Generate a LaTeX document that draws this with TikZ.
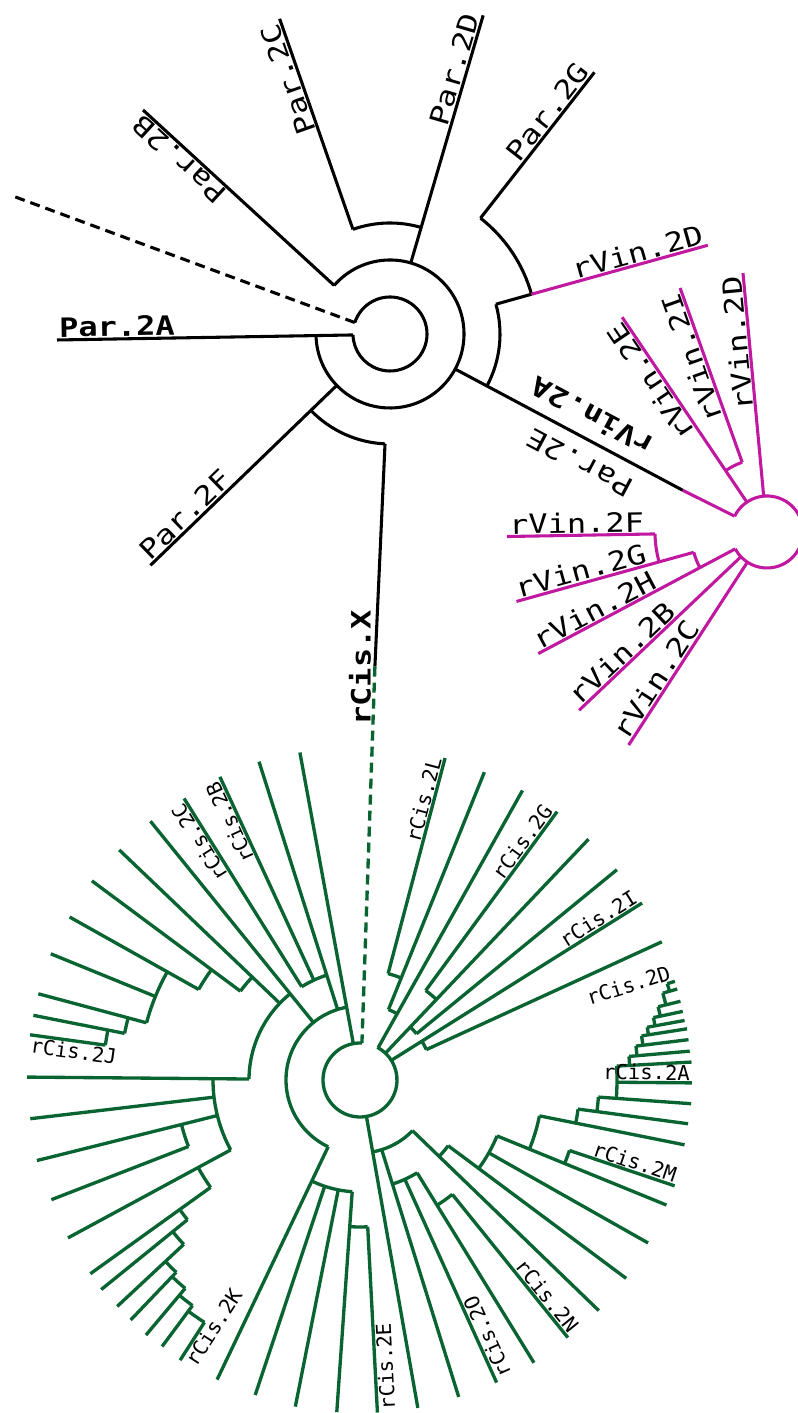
\documentclass[tikz,border=0pt]{standalone}
\usepackage{fontspec}
\newfontfamily\lblfont[FakeStretch=1.2]{DejaVu Sans Mono}
\newfontfamily\glblfont{DejaVu Sans Mono}
\definecolor{mag}{RGB}{192,24,160}
\definecolor{grn}{RGB}{10,100,50}
\newcommand{\tleaf}[3]{\draw (#1:#2) -- (#1:#3);}
\newcommand{\tleafn}[4]{\draw (#1:#2) -- (#1:#3) coordinate (#4);}
\newcommand{\tarc}[3]{\draw (#1:#3) arc[start angle=#1, end angle=#2, radius=#3*0.75pt];}
\tikzset{
  blk/.style={line width=2.3pt, draw=black},
  mg/.style={line width=2.3pt, draw=mag},
  gr/.style={line width=2.5pt, draw=grn},
  dsh/.style={dash pattern=on 7.5pt off 4.5pt},
  lab/.style={font=\lblfont\fontsize{20}{24}\selectfont, inner sep=1.6pt},
  blab/.style={font=\lblfont\bfseries\fontsize{20}{24}\selectfont, inner sep=1.6pt},
  glab/.style={font=\glblfont\fontsize{15.4}{18}\selectfont, inner sep=1.5pt},
}
\begin{document}
\begin{tikzpicture}[x=0.75pt,y=0.75pt]
\useasboundingbox (0,0) rectangle (798,1413);
\clip (0,0) rectangle (798,1413);
\fill[white] (0,0) rectangle (798,1413);

% ---------------- black tree ----------------
\begin{scope}[shift={(390,1079)}, blk]
\coordinate (bIn) at (162:37);
\coordinate (bOut) at (-380,139);
\draw (bIn) arc[start angle=162, end angle=-178.5, radius=37*0.75pt];
\draw[dsh] (bIn) -- (bOut);
\coordinate (pA0) at (181.5:37);
\coordinate (pA1) at (-333,-6);
\draw (pA0) -- (pA1);
\tarc{181}{499}{74}
\coordinate (pB0) at (139:74);
\coordinate (pB1) at (-247,224);
\draw (pB0) -- (pB1);
\tarc{109.5}{73.7}{111}
\draw (109.5:111) -- (109.3:334) coordinate (pC1);
\tleafn{73.7}{74}{332}{pD1}
\tarc{52}{15.7}{147}
\tleafn{52}{147}{332}{pG1}
\tleaf{15.7}{110}{147}
\draw[mg] (15.7:147) -- (15.6:330) coordinate (vDt1);
\tarc{15.7}{-28.3}{110}
\coordinate (vA0) at (-28.3:74);
\coordinate (vA1) at (-28.1:332);
\coordinate (vA2) at (344.6,-182.2);
\draw (vA0) -- (vA1);
\draw[mg] (vA1) -- (vA2);
\tleafn{224}{74}{333}{pF1}
\tarc{224}{267.4}{110}
\coordinate (bX) at (267.4:333);
\draw (267.4:110) -- (bX);
\end{scope}

% ---------------- magenta tree ----------------
\begin{scope}[shift={(767,881)}, mg]
\draw (154:36) arc[start angle=154, end angle=-152, radius=36*0.75pt];
\tleafn{95.3}{36}{260}{vD1}
\tleafn{124}{36}{259}{vE1}
\tarc{124}{109.6}{74}
\tleafn{109.6}{74}{259}{vI1}
\tleafn{208}{36}{259}{vH1}
\tarc{208}{195.5}{76}
\tleafn{195.5}{76}{260}{vG1}
\tarc{195.5}{181}{112}
\tleafn{181}{112}{260}{vF1}
\tleafn{223.5}{36}{259}{vB1}
\tleafn{237}{36}{254}{vC1}
\end{scope}

% ---------------- green tree ----------------
\begin{scope}[shift={(360,333)}, gr]
\coordinate (gTop) at (87:37);
\tarc{87}{422}{37}
% upper right
\tleaf{60.7}{37}{332}
\tarc{60.7}{68}{76}
\tleaf{68}{76}{332}
\tarc{68}{75.2}{110}
\tleafn{75.2}{110}{333}{cL1}
\tleaf{46.5}{37}{332}
\tarc{46.5}{53.7}{111}
\tleafn{53.7}{111}{333}{cG1}
\tarc{46.5}{39.3}{73}
\tleaf{39.3}{73}{332}
\tleafn{32.1}{37}{333}{cI1}
\tarc{32.1}{24.6}{73}
\tleaf{24.6}{73}{332}
% lower right
\tleaf{-80}{37}{333}
\tarc{-80}{-44}{73}
\tleaf{-72.7}{73}{332}
\tarc{-72.7}{-58.4}{109}
\tleafn{-65.7}{109}{332}{cO1}
\tleaf{-58.4}{109}{332}
\tarc{-58.4}{-51.1}{147}
\tleafn{-51.1}{147}{331}{cN1}
\tleaf{-44}{73}{332}
\tarc{-44}{-36.7}{110}
\tleaf{-36.7}{110}{332}
\tarc{-36.7}{-22.2}{148}
\tleaf{-29.5}{148}{331}
\tleaf{-22.2}{148}{331}
\tarc{-22.2}{-18.6}{221}
\tleafn{-18.6}{221}{332}{cM1}
\tarc{-22.2}{-11.3}{183}
\tleaf{-11.3}{183}{331}
\tarc{-11.3}{-7.6}{220}
\tleaf{-7.6}{220}{331}
\tarc{-7.6}{-4.1}{239}
\tleaf{-4.1}{239}{332}
\tarc{-4.1}{3.1}{257}
\tleafn{-0.5}{257}{332}{cA1}
\tleaf{3.1}{257}{332}
\tarc{3.1}{5}{270}
\tleaf{5}{270}{331}
\tarc{5}{7}{278}
\tleaf{7}{278}{331}
\tarc{7}{8.9}{285}
\tleaf{8.9}{285}{331}
\tarc{8.9}{10.4}{292}
\tleaf{10.4}{292}{330}
\tarc{10.4}{12}{300}
\tleaf{12}{300}{330}
\tarc{12}{13.8}{307}
\tleaf{13.8}{307}{330}
\tarc{13.8}{16}{315}
\tleaf{16}{315}{330}
\tarc{16}{17.4}{322}
\tleafn{17.4}{322}{330}{cD1}
% left side
\tleaf{100.4}{37}{333}
\tarc{100.4}{244.5}{74}
\tleaf{107.6}{74}{334}
\tarc{107.6}{122}{110}
\tleafn{114.8}{110}{334}{cB1}
\tleafn{122}{110}{332}{cC1}
\tleaf{129}{74}{333}
\tarc{129}{179.5}{111}
\tleaf{136.3}{111}{333}
\tarc{136.3}{143.4}{149}
\tleaf{143.4}{149}{334}
\tarc{143.4}{150.7}{185}
\tleaf{150.7}{185}{333}
\tarc{150.7}{165}{221}
\tleaf{157.8}{221}{334}
\tleaf{165}{221}{333}
\tarc{165}{168.8}{240}
\tleaf{168.8}{240}{333}
\tarc{168.8}{172.2}{257}
\tleafn{172.2}{257}{333}{cJ1}
\tleaf{179.5}{111}{333}
\tarc{179.5}{208.4}{147}
\tleaf{186.7}{147}{332}
\tleaf{194}{147}{333}
\tarc{194}{201.2}{184}
\tleaf{201.2}{184}{331}
\tleaf{208.4}{147}{332}
\tarc{208.4}{215.7}{184}
\tleaf{215.7}{184}{332}
\tarc{215.7}{219}{222}
\tleaf{219}{222}{333}
\tarc{219}{223}{241}
\tleaf{223}{241}{332}
\tarc{223}{226.3}{266}
\tleaf{226.3}{266}{332}
\tarc{226.3}{230}{272}
\tleaf{230}{272}{333}
\tarc{230}{233.4}{281}
\tleaf{233.4}{281}{332}
\tarc{233.4}{237.3}{288}
\tleafn{237.3}{288}{333}{cK1}
\tleaf{244.5}{74}{332}
\tarc{244.5}{266}{112}
\tleaf{251.6}{112}{332}
\tleaf{258.8}{112}{333}
\tleaf{266}{112}{333}
\tarc{266}{273}{147}
\tleafn{273}{147}{333}{cE1}
\end{scope}

% stem from black tree to green tree
\draw[gr, dsh] (bX) -- (gTop);

% ---------------- labels ----------------
\node[blab, rotate=1, anchor=south west]      (lPar2A) at (pA1) {Par.2A};
\node[lab, rotate=137.5, anchor=south east]   (lPar2B) at (pB1) {Par.2B};
\node[lab, rotate=109.4, anchor=south east]   (lPar2C) at (pC1) {Par.2C};
\node[lab, rotate=73.7, anchor=south east]    (lPar2D) at (pD1) {Par.2D};
\node[lab, rotate=52, anchor=south east]      (lPar2G) at (pG1) {Par.2G};
\node[lab, rotate=44, anchor=south west]      (lPar2F) at (pF1) {Par.2F};
\node[blab, rotate=152]   (lrVin2A) at (592,996) {rVin.2A};
\node[lab, rotate=152]    (lPar2E) at (580,950)  {Par.2E};
\node[lab, rotate=15.6, anchor=south east]    (lrVin2Dt) at (vDt1) {rVin.2D};
\node[lab, rotate=124, anchor=south east]     (lrVin2E) at (vE1) {rVin.2E};
\node[lab, rotate=109.6, anchor=south east]   (lrVin2I) at (vI1) {rVin.2I};
\node[lab, rotate=95.3, anchor=south east]    (lrVin2D) at (vD1) {rVin.2D};
\node[lab, rotate=1, anchor=south west]       (lrVin2F) at (vF1) {rVin.2F};
\node[lab, rotate=15.5, anchor=south west]    (lrVin2G) at (vG1) {rVin.2G};
\node[lab, rotate=28, anchor=south west]      (lrVin2H) at (vH1) {rVin.2H};
\node[lab, rotate=43.5, anchor=south west]    (lrVin2B) at (vB1) {rVin.2B};
\node[lab, rotate=57, anchor=south west]      (lrVin2C) at (vC1) {rVin.2C};
\node[blab, rotate=90]    (lrCisX) at (360,745)   {rCis.X};

\node[glab, rotate=75.2, anchor=south east]   (lrCis2L) at (cL1) {rCis.2L};
\node[glab, rotate=53.7, anchor=south east]   (lrCis2G) at (cG1) {rCis.2G};
\node[glab, rotate=32.1, anchor=south east]   (lrCis2I) at (cI1) {rCis.2I};
\node[glab, rotate=17.4, anchor=south east]   (lrCis2D) at (cD1) {rCis.2D};
\node[glab, rotate=-0.5, anchor=south east]   (lrCis2A) at (cA1) {rCis.2A};
\node[glab, rotate=-18.6, anchor=south east]  (lrCis2M) at (cM1) {rCis.2M};
\node[glab, rotate=-51.1, anchor=south east]  (lrCis2N) at (cN1) {rCis.2N};
\node[glab, rotate=114.3, anchor=north west]  (lrCis2O) at (cO1) {rCis.2O};
\node[glab, rotate=93, anchor=north west]     (lrCis2E) at (cE1) {rCis.2E};
\node[glab, rotate=57.3, anchor=north west]   (lrCis2K) at (cK1) {rCis.2K};
\node[glab, rotate=-7.8, anchor=north west]   (lrCis2J) at (cJ1) {rCis.2J};
\node[glab, rotate=122, anchor=south east]    (lrCis2C) at (cC1) {rCis.2C};
\node[glab, rotate=114.8, anchor=south east]  (lrCis2B) at (cB1) {rCis.2B};
\end{tikzpicture}
\end{document}
